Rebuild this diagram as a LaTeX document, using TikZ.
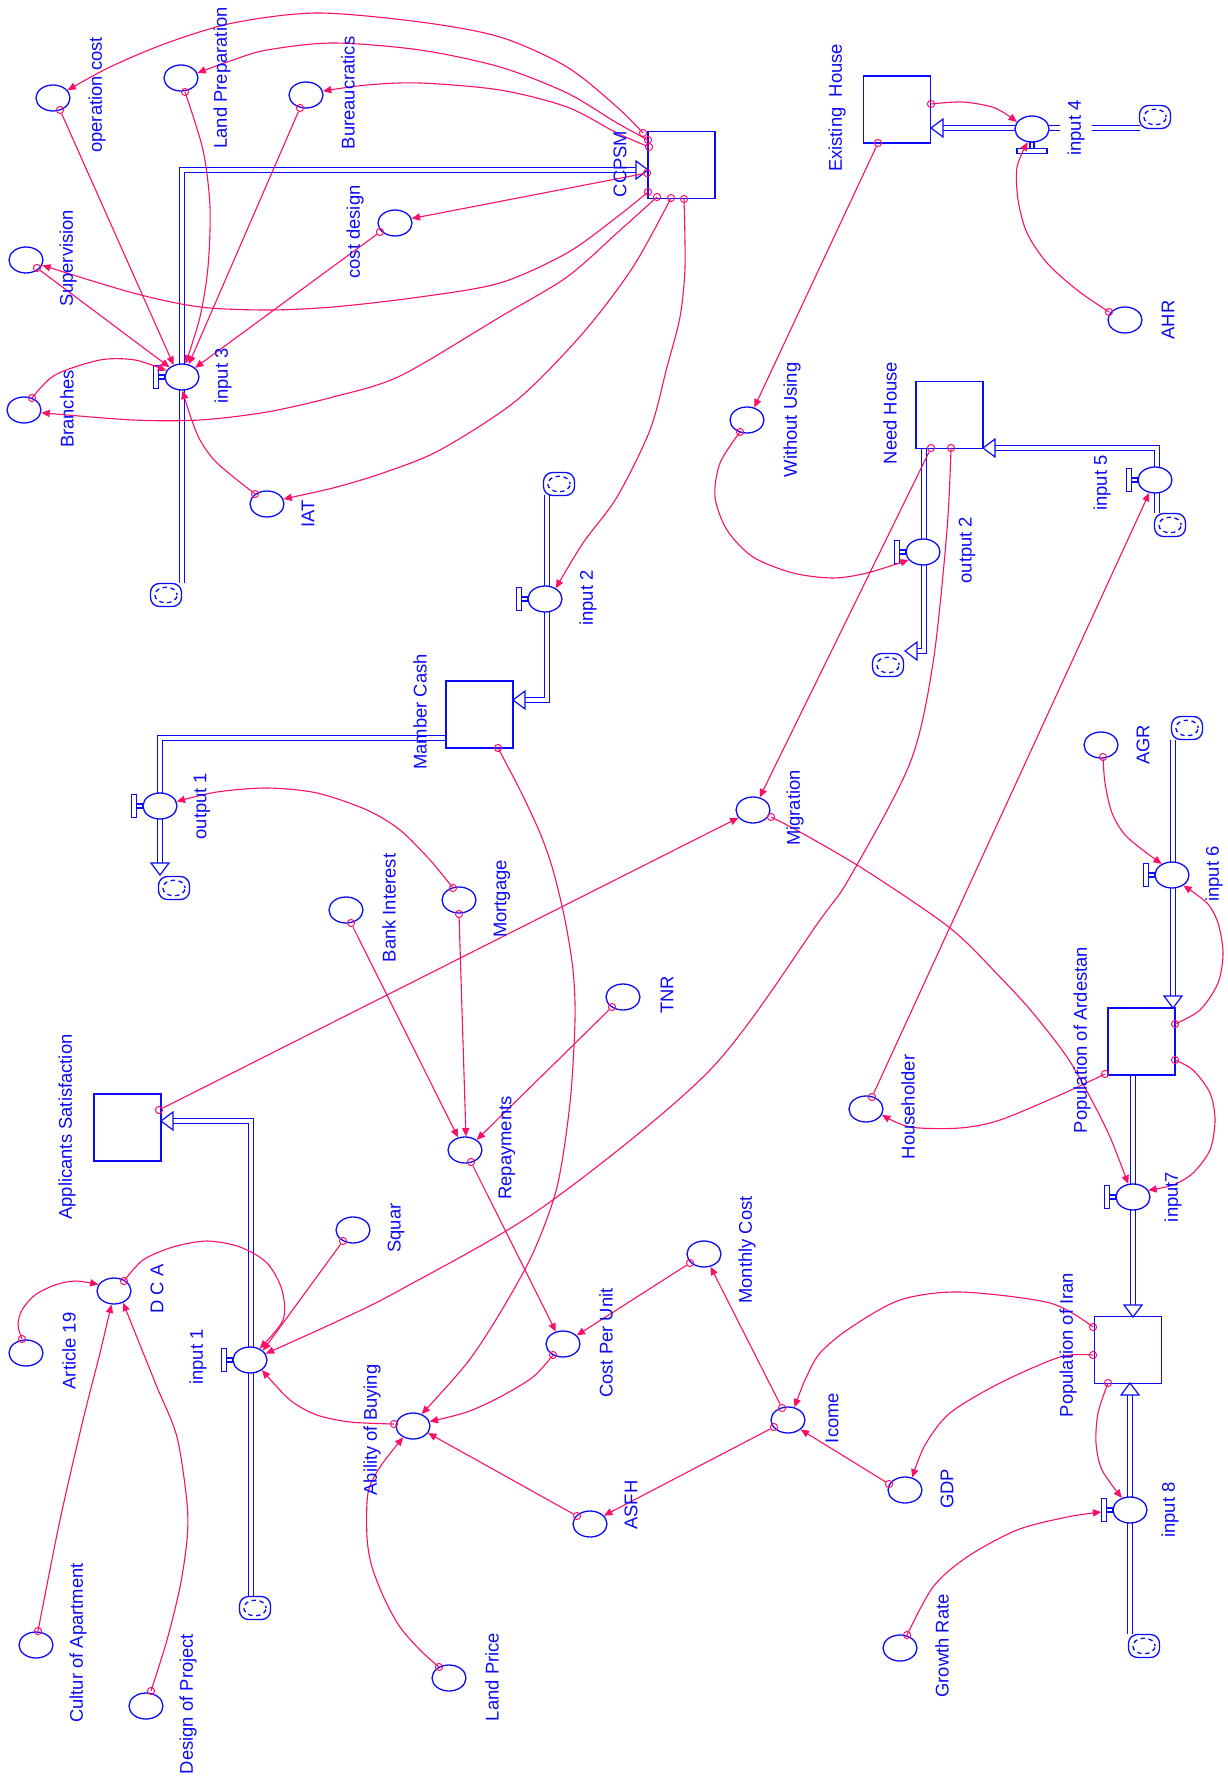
\documentclass[tikz,border=0pt]{standalone}
\usepackage{fontspec}
\setmainfont{Liberation Sans}
\usetikzlibrary{arrows.meta,shapes.geometric,calc}
\definecolor{flowblue}{RGB}{10,10,250}
\definecolor{linkpink}{RGB}{250,15,105}
\pgfdeclarelayer{pipes}
\pgfsetlayers{pipes,main}

% hollow arrow tips at the end of flow pipes
\newcommand\tipright[1]{\draw[pipetip] (#1) -- ++(-12,-9) -- ++(0,18) -- cycle;}
\newcommand\tipleft[1]{\draw[pipetip] (#1) -- ++(12,-9) -- ++(0,18) -- cycle;}
\newcommand\tipdown[1]{\draw[pipetip] (#1) -- ++(-9,-12) -- ++(18,0) -- cycle;}
\newcommand\tipup[1]{\draw[pipetip] (#1) -- ++(-9,12) -- ++(18,0) -- cycle;}
% valve handles
\newcommand\handleleft[1]{%
  \draw[vhandle] ($(#1.west)+(0.5,-2)$) rectangle ($(#1.west)+(-6,2)$);
  \draw[vhandle] ($(#1.west)+(-6,-11.5)$) rectangle ($(#1.west)+(-11,11.5)$);}
\newcommand\handlebelow[1]{%
  \draw[vhandle] ($(#1.south)+(-2,-0.5)$) rectangle ($(#1.south)+(2,6)$);
  \draw[vhandle] ($(#1.south)+(-15,6)$) rectangle ($(#1.south)+(15,11)$);}

\begin{document}
\begin{tikzpicture}[x=0.5pt,y=-0.5pt,
  stock/.style={draw=flowblue, line width=0.65pt, rectangle, minimum width=33.5pt, minimum height=33.5pt, inner sep=0, fill=white},
  aux/.style={draw=flowblue, line width=0.65pt, ellipse, minimum width=17pt, minimum height=13pt, inner sep=0},
  valve/.style={aux, fill=white},
  cloud/.style={draw=flowblue, line width=0.65pt, rectangle, rounded corners=4.5pt, minimum width=15.5pt, minimum height=11.5pt, inner sep=0, fill=white,
    path picture={\draw[flowblue, line width=0.65pt, dash pattern=on 2.2pt off 1.8pt, dash phase=1pt] (path picture bounding box.center) ellipse (5.6pt and 3.9pt);}},
  lab/.style={text=flowblue, font=\fontsize{9.2}{11}\selectfont, rotate=90, inner sep=0.5pt},
  pipe/.style={draw=flowblue, line width=0.6pt, double=white, double distance=1.6pt},
  pipetip/.style={draw=flowblue, line width=0.6pt, fill=white, line join=miter},
  vhandle/.style={draw=flowblue, line width=0.6pt, fill=white},
  link/.style={draw=linkpink, line width=0.55pt, -{Triangle[length=4.2pt,width=3.6pt]}},
  orig/.style={draw=linkpink, line width=0.5pt, circle, minimum size=3.6pt, inner sep=0},
]
\useasboundingbox (0,0) rectangle (1227,1780);

% ---------- stocks ----------
\node[stock] (ccpsm)  at (681.5,165)    {};
\node[stock] (exist)  at (897,109.5)    {};
\node[stock] (need)   at (949.5,415)    {};
\node[stock] (mamber) at (479.5,714.5)  {};
\node[stock] (appl)   at (127.5,1127.5) {};
\node[stock] (pard)   at (1141.5,1041.5){};
\node[stock] (piran)  at (1128,1350)    {};

% ---------- auxiliaries ----------
\node[aux] (opcost)   at (53,98)    {};
\node[aux] (landprep) at (181,78)   {};
\node[aux] (bureau)   at (306,95)   {};
\node[aux] (costdes)  at (395,223)  {};
\node[aux] (superv)   at (26,260)   {};
\node[aux] (branches) at (24,410)   {};
\node[aux] (iat)      at (267,504)  {};
\node[aux] (withoutu) at (747,420)  {};
\node[aux] (ahr)      at (1125,320) {};
\node[aux] (migr)     at (753,810)  {};
\node[aux] (mortg)    at (459,900)  {};
\node[aux] (bank)     at (346,910)  {};
\node[aux] (tnr)      at (623,997)  {};
\node[aux] (repay)    at (465,1150) {};
\node[aux] (monthly)  at (704,1254) {};
\node[aux] (costpu)   at (563,1344) {};
\node[aux] (ability)  at (413,1426) {};
\node[aux] (icome)    at (788,1420) {};
\node[aux] (gdp)      at (905,1490) {};
\node[aux] (asfh)     at (590,1524) {};
\node[aux] (landpr)   at (449,1678) {};
\node[aux] (growth)   at (900,1648) {};
\node[aux] (agr)      at (1101,745) {};
\node[aux] (househ)   at (866,1109) {};
\node[aux] (squar)    at (353,1230) {};
\node[aux] (dca)      at (114,1291) {};
\node[aux] (art)      at (26,1353)  {};
\node[aux] (cultur)   at (36,1645)  {};
\node[aux] (design)   at (146,1706) {};

% ---------- valves ----------
\node[valve] (in3)  at (182,377)   {};
\node[valve] (in2)  at (545,599)   {};
\node[valve] (out1) at (160,806)   {};
\node[valve] (in4)  at (1032,129)  {};
\node[valve] (out2) at (923,552)   {};
\node[valve] (in5)  at (1155,480)  {};
\node[valve] (in6)  at (1172,875)  {};
\node[valve] (in7)  at (1133,1197) {};
\node[valve] (in8)  at (1130,1510) {};
\node[valve] (in1)  at (250,1360)  {};
\handleleft{in3} \handleleft{in2} \handleleft{out1} \handleleft{out2}
\handleleft{in5} \handleleft{in6} \handleleft{in7} \handleleft{in8}
\handleleft{in1} \handlebelow{in4}

% ---------- sources and sinks ----------
\node[cloud] (cl3)  at (166,595)   {};
\node[cloud] (cl2)  at (559,484)   {};
\node[cloud] (clo1) at (174,888)   {};
\node[cloud] (cl4)  at (1155,117)  {};
\node[cloud] (clo2) at (888,665)   {};
\node[cloud] (cl5)  at (1170,525)  {};
\node[cloud] (cl6)  at (1187,728)  {};
\node[cloud] (cl8)  at (1144,1646) {};
\node[cloud] (cl1)  at (255,1608)  {};

% ---------- flow pipes ----------
\coordinate (t3) at (648,170);
\coordinate (t2) at (513,700);
\coordinate (to1) at (160,875);
\coordinate (t4) at (931,128);
\coordinate (to2) at (905,651);
\coordinate (t5) at (983,448);
\coordinate (t6) at (1173,1008);
\coordinate (t7) at (1133,1317);
\coordinate (t8) at (1130,1383);
\coordinate (t1) at (161,1121);
\begin{pgfonlayer}{pipes}
\draw[pipe] (182,583) |- ($(t3)+(-11,0)$);
\draw[pipe] (547,495) |- ($(t2)+(11,0)$);
\draw[pipe] (446,738) -| ($(to1)+(0,-11)$);
\draw[pipe] (1140,128) -- ($(t4)+(11,0)$);
\draw[pipe] (924,448) |- ($(to2)+(11,0)$);
\draw[pipe] (1157,513) |- ($(t5)+(11,0)$);
\draw[pipe] (1173,740) -- ($(t6)+(0,-11)$);
\draw[pipe] (1133,1075) -- ($(t7)+(0,-11)$);
\draw[pipe] (1130,1634) -- ($(t8)+(0,11)$);
\draw[pipe] (251,1597) |- ($(t1)+(11,0)$);
\end{pgfonlayer}
\tipright{t3} \tipleft{t2} \tipdown{to1} \tipleft{t4} \tipleft{to2}
\tipleft{t5} \tipdown{t6} \tipdown{t7} \tipup{t8} \tipleft{t1}

% ---------- connector origins ----------
\node[orig] (oC1) at (643,133) {};
\node[orig] (oC2) at (648,140) {};
\node[orig] (oC3) at (649,147) {};
\node[orig] (oC4) at (647,173) {};
\node[orig] (oC5) at (648,192) {};
\node[orig] (oC6) at (657,197) {};
\node[orig] (oC7) at (671,198) {};
\node[orig] (oC8) at (684,199) {};
\node[orig] (oOp) at (60,110) {};
\node[orig] (oLp) at (185,92) {};
\node[orig] (oBu) at (300,108) {};
\node[orig] (oCd) at (380,232) {};
\node[orig] (oSu) at (37,268) {};
\node[orig] (oBr) at (32,398) {};
\node[orig] (oIat) at (255,494) {};
\node[orig] (oEh1) at (931,104) {};
\node[orig] (oEh2) at (878,143) {};
\node[orig] (oAhr) at (1109,312) {};
\node[orig] (oWu) at (740,432) {};
\node[orig] (oNh1) at (931,448) {};
\node[orig] (oNh2) at (951,448) {};
\node[orig] (oHh) at (872,1097) {};
\node[orig] (oPa1) at (1175,1024) {};
\node[orig] (oPa2) at (1175,1060) {};
\node[orig] (oPa3) at (1105,1074) {};
\node[orig] (oAgr) at (1103,757) {};
\node[orig] (oMig) at (771,817) {};
\node[orig] (oAp) at (159,1110) {};
\node[orig] (oPi1) at (1093,1327) {};
\node[orig] (oPi2) at (1093,1355) {};
\node[orig] (oPi3) at (1108,1383) {};
\node[orig] (oGr) at (907,1635) {};
\node[orig] (oGdp) at (889,1484) {};
\node[orig] (oIc1) at (782,1408) {};
\node[orig] (oIc2) at (774,1427) {};
\node[orig] (oAs) at (577,1516) {};
\node[orig] (oMc) at (690,1263) {};
\node[orig] (oCpu) at (553,1355) {};
\node[orig] (oRep) at (471,1162) {};
\node[orig] (oMo1) at (453,888) {};
\node[orig] (oMo2) at (459,914) {};
\node[orig] (oBank) at (351,923) {};
\node[orig] (oTnr) at (612,1007) {};
\node[orig] (oMam) at (498,748) {};
\node[orig] (oLpr) at (439,1667) {};
\node[orig] (oSq) at (343,1241) {};
\node[orig] (oAb) at (394,1424) {};
\node[orig] (oDca) at (124,1281) {};
\node[orig] (oArt) at (22,1339) {};
\node[orig] (oCul) at (38,1631) {};
\node[orig] (oDes) at (151,1691) {};
\coordinate (in8h) at ($(in8.west)+(-11,2)$);

% ---------- straight connectors ----------
\draw[link] (oOp) -- (in3.125);
\draw[link] (oBu) -- (in3.62);
\draw[link] (oCd) -- (in3.35);
\draw[link] (oSu) -- (in3.142);
\draw[link] (oC4) -- (costdes.15);
\draw[link] (oEh2) -- (withoutu.60);
\draw[link] (oNh1) -- (migr.62);
\draw[link] (oHh) -- (in5.-114);
\draw[link] (oAp) -- (migr.208);
\draw[link] (oIc1) -- (monthly.-63);
\draw[link] (oIc2) -- (asfh.31);
\draw[link] (oGdp) -- (icome.-37);
\draw[link] (oAs) -- (ability.-25);
\draw[link] (oMc) -- (costpu.32);
\draw[link] (oRep) -- (costpu.120);
\draw[link] (oMo2) -- (repay.86);
\draw[link] (oBank) -- (repay.119);
\draw[link] (oTnr) -- (repay.41);
\draw[link] (oSq) -- (in1.36);

% ---------- curved connectors ----------
\draw[link] plot[smooth] coordinates {(oC1) (617,107) (567,67) (500,37) (420,22) (317,13) (233,23) (167,43) (110,67) (opcost.28)};
\draw[link] plot[smooth] coordinates {(oC2) (617,123) (567,93) (500,67) (420,50) (333,43) (267,50) (233,60) (landprep.17)};
\draw[link] plot[smooth] coordinates {(oC3) (617,133) (567,107) (500,90) (420,83) (367,85) (bureau.13)};
\draw[link] plot[smooth] coordinates {(oC5) (617,217) (567,253) (500,283) (420,297) (333,307) (267,310) (200,307) (133,293) (superv.-18)};
\draw[link] plot[smooth] coordinates {(oC6) (617,233) (567,277) (500,317) (400,376) (333,397) (267,412) (200,420) (133,420) (branches.-9)};
\draw[link] plot[smooth] coordinates {(oC7) (633,267) (583,333) (517,400) (440,450) (383,473) (333,488) (iat.17)};
\draw[link] plot[smooth] coordinates {(oC8) (685,267) (680,317) (667,367) (650,430) (617,497) (583,543) (in2.45)};
\draw[link] plot[smooth] coordinates {(oLp) (203,150) (210,207) (208,267) (200,317) (in3.75)};
\draw[link] plot[smooth] coordinates {(oBr) (55,375) (100,360) (135,360) (in3.158)};
\draw[link] plot[smooth] coordinates {(oIat) (217,463) (200,440) (190,415) (in3.-88)};
\draw[link] plot[smooth] coordinates {(oEh1) (963,102) (995,108) (in4.155)};
\draw[link] plot[smooth] coordinates {(oAhr) (1077,290) (1047,263) (1027,233) (1018,200) (1017,167) (in4.-108)};
\draw[link] plot[smooth] coordinates {(oWu) (720,463) (715,497) (727,530) (753,557) (793,573) (833,578) (867,573) (out2.209)};
\draw[link] plot[smooth] coordinates {(oNh2) (947,530) (933,663) (910,763) (850,877) (820,920) (710,1070) (543,1207) (400,1290) (340,1320) (in1.22)};
\draw[link] plot[smooth] coordinates {(oPa1) (1200,1010) (1218,983) (1223,953) (1218,923) (1207,903) (in6.-43)};
\draw[link] plot[smooth] coordinates {(oPa2) (1193,1070) (1210,1093) (1215,1120) (1210,1150) (1193,1173) (1173,1185) (in7.24)};
\draw[link] plot[smooth] coordinates {(oPa3) (1060,1095) (1000,1120) (960,1128) (910,1127) (househ.-20)};
\draw[link] plot[smooth] coordinates {(oAgr) (1105,783) (1112,813) (1127,837) (in6.133)};
\draw[link] plot[smooth] coordinates {(oMig) (800,832) (865,870) (950,928) (1000,977) (1033,1013) (1067,1057) (1090,1097) (1110,1137) (in7.110)};
\draw[link] plot[smooth] coordinates {(oPi1) (1050,1303) (960,1292) (900,1300) (850,1328) (820,1353) (805,1380) (icome.63)};
\draw[link] plot[smooth] coordinates {(oPi2) (1060,1357) (1000,1383) (950,1413) (925,1445) (gdp.60)};
\draw[link] plot[smooth] coordinates {(oPi3) (1098,1413) (1096,1443) (1102,1470) (in8.124)};
\draw[link] plot[smooth] coordinates {(oGr) (933,1587) (967,1557) (1017,1530) (1067,1517) (in8h)};
\draw[link] plot[smooth] coordinates {(oMam) (520,790) (540,833) (553,870) (565,920) (573,970) (575,1020) (570,1103) (557,1187) (533,1253) (500,1313) (467,1363) (ability.54)};
\draw[link] plot[smooth] coordinates {(oLpr) (420,1650) (400,1627) (385,1600) (372,1567) (367,1537) (368,1493) (380,1467) (ability.-131)};
\draw[link] plot[smooth] coordinates {(oCpu) (533,1377) (500,1397) (467,1412) (ability.15)};
\draw[link] plot[smooth] coordinates {(oAb) (350,1422) (317,1415) (290,1400) (in1.-40)};
\draw[link] plot[smooth] coordinates {(oDca) (143,1260) (173,1247) (207,1241) (240,1247) (267,1263) (282,1290) (283,1320) (in1.50)};
\draw[link] plot[smooth] coordinates {(oArt) (18,1325) (22,1310) (35,1295) (55,1285) (75,1281) (dca.157)};
\draw[link] plot[smooth] coordinates {(oCul) (60,1520) (83,1420) (100,1353) (dca.-101)};
\draw[link] plot[smooth] coordinates {(oDes) (167,1640) (180,1587) (187,1540) (187,1503) (177,1437) (157,1387) (138,1340) (dca.-52)};
\draw[link] plot[smooth] coordinates {(oMo1) (430,860) (400,830) (367,810) (317,793) (267,788) (217,792) (out1.15)};

% ---------- labels ----------
\node[lab] (lccpsm) at (620,164) {CCPSM};
\node[lab] (lopcost) at (97,95) {operation cost};
\node[lab] (llandprep) at (222,78) {Land Preparation};
\node[lab] (lbureau) at (348,93) {Bureaucratics};
\node[lab] (lcostdes) at (355,232) {cost design};
\node[lab] (lsuperv) at (68,258) {Supervision};
\node[lab] (lbranches) at (67,409) {Branches};
\node[lab] (lin3) at (223,376) {input 3};
\node[lab] (liat) at (308,514) {IAT};
\node[lab] (lexist) at (837,108) {Existing~~House};
\node[lab, fill=white, inner ysep=3.8pt] (lin4) at (1076,128) {input 4};
\node[lab] (lahr) at (1168,320) {AHR};
\node[lab] (lneed) at (890,413) {Need House};
\node[lab] (lwithoutu) at (792,420) {Without Using};
\node[lab] (lin5) at (1102,483) {input 5};
\node[lab] (lout2) at (967,550) {output 2};
\node[lab] (lin2) at (588,598) {input 2};
\node[lab] (lmamber) at (420,712) {Mamber Cash};
\node[lab] (lout1) at (202,806) {output 1};
\node[lab] (lmigr) at (795,808) {Migration};
\node[lab] (lagr) at (1143,745) {AGR};
\node[lab] (lin6) at (1214,874) {input 6};
\node[lab] (lbank) at (389,908) {Bank Interest};
\node[lab] (lmortg) at (502,899) {Mortgage};
\node[lab] (ltnr) at (667,995) {TNR};
\node[lab] (lpard) at (1082,1040) {Population of Ardestan};
\node[lab] (lhouseh) at (908,1107) {Householder};
\node[lab] (lappl) at (67,1127) {Applicants Satisfaction};
\node[lab] (lrepay) at (507,1148) {Repayments};
\node[lab] (lin7) at (1173,1197) {input7};
\node[lab] (lsquar) at (396,1228) {Squar};
\node[lab] (lmonthly) at (747,1250) {Monthly Cost};
\node[lab] (ldca) at (157,1289) {D C A};
\node[lab] (lart) at (69,1351) {Article 19};
\node[lab] (lcostpu) at (606,1343) {Cost Per Unit};
\node[lab] (lpiran) at (1068,1345) {Population of Iran};
\node[lab] (lin1) at (198,1357) {input 1};
\node[lab] (licome) at (832,1418) {Icome};
\node[lab] (lability) at (372,1430) {Ability of Buying};
\node[lab] (lgdp) at (947,1489) {GDP};
\node[lab] (lasfh) at (631,1505) {ASFH};
\node[lab] (lin8) at (1170,1510) {input 8};
\node[lab] (lcultur) at (78,1643) {Cultur of Apartment};
\node[lab] (lgrowth) at (942,1646) {Growth Rate};
\node[lab] (llandpr) at (492,1677) {Land Price};
\node[lab] (ldesign) at (188,1704) {Design of Project};
\end{tikzpicture}
\end{document}
